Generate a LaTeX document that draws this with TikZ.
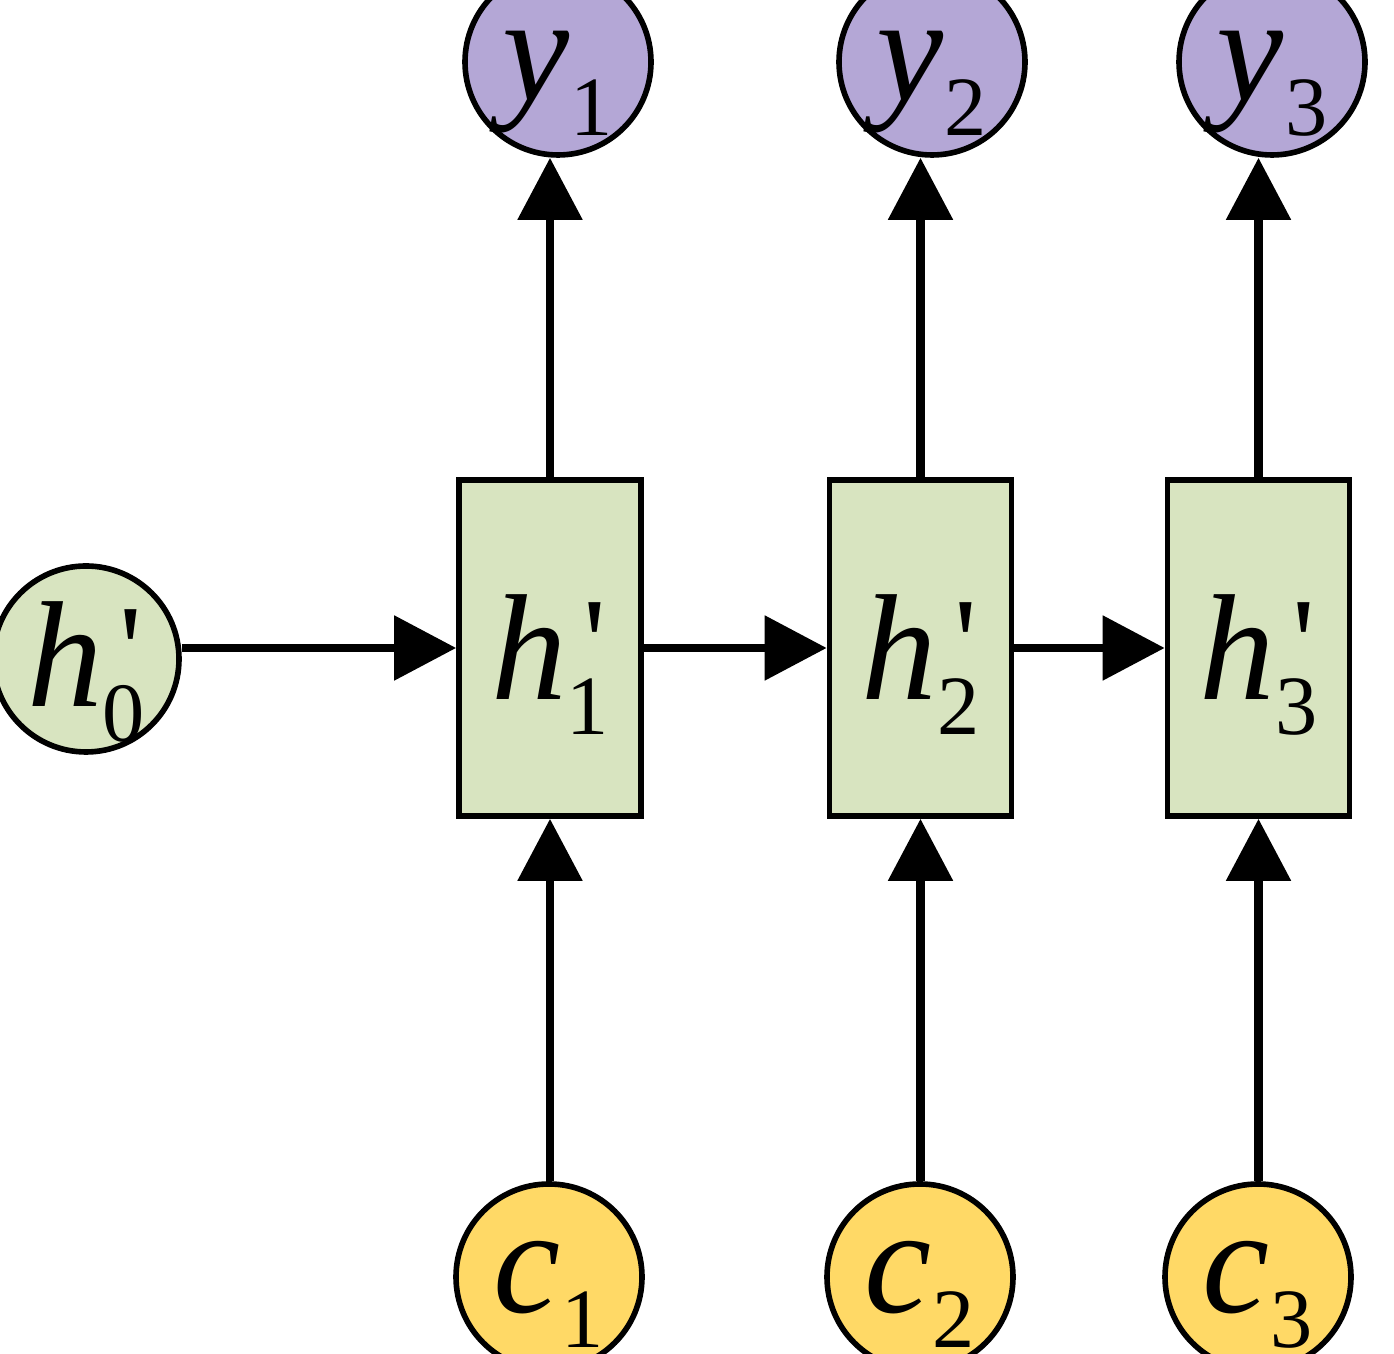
\documentclass[tikz,border=0pt]{standalone}
\usepackage{fontspec}
\setmainfont{Liberation Serif}
\usetikzlibrary{arrows.meta,positioning}
\definecolor{outcol}{RGB}{180,167,214}
\definecolor{hidcol}{RGB}{216,228,192}
\definecolor{incol}{RGB}{255,217,102}
\newcommand{\subfont}{\fontsize{24}{24}\selectfont}
\newcommand{\primefont}{\fontsize{36}{36}\selectfont}
% label: letter, subscript, baseline shift
\newcommand{\lbl}[3]{\makebox[0pt]{\smash{\raisebox{#3}{\textit{#1}\kern0.01cm\raisebox{-0.35cm}{\subfont #2}}}}}
% primed label: letter, subscript, baseline shift
\newcommand{\plbl}[3]{\makebox[0pt]{\smash{\raisebox{#3}{\textit{#1}\rlap{\kern0.17cm\raisebox{0.14cm}{\primefont\textquotesingle}}\kern0.0cm\raisebox{-0.35cm}{\subfont #2}}}}}
\tikzset{
  basic/.style  = {draw, line width=1.6pt, inner sep=0pt, font=\fontsize{43}{43}\selectfont},
  outnode/.style = {basic, circle, minimum size=1.86cm, fill=outcol},
  innode/.style  = {basic, circle, minimum size=1.86cm, fill=incol},
  state/.style   = {basic, circle, minimum size=1.86cm, fill=hidcol},
  cell/.style    = {basic, rectangle, minimum width=1.82cm, minimum height=3.36cm, fill=hidcol},
  arr/.style     = {-{Triangle[length=6.2mm,width=6.3mm]}, line width=2.5pt}
}
\begin{document}
\begin{tikzpicture}
\useasboundingbox (0,0) rectangle (13.94,13.54);
\clip (0,0) rectangle (13.94,13.54);

% hidden cells
\node[cell] (h1) at (5.50,7.06) {\plbl{h}{1}{-0.52cm}};
\node[cell] (h2) at (9.205,7.06) {\plbl{h}{2}{-0.52cm}};
\node[cell] (h3) at (12.585,7.06) {\plbl{h}{3}{-0.52cm}};
\node[state] (h0) at (0.86,6.95) {\plbl{h}{0}{-0.48cm}};

% outputs
\node[outnode] (y1) at (5.58,12.92) {\lbl{y}{1}{-0.39cm}};
\node[outnode] (y2) at (9.32,12.92) {\lbl{y}{2}{-0.39cm}};
\node[outnode] (y3) at (12.72,12.92) {\lbl{y}{3}{-0.39cm}};

% inputs
\node[innode] (c1) at (5.49,0.77) {\lbl{c}{1}{-0.36cm}};
\node[innode] (c2) at (9.20,0.77) {\lbl{c}{2}{-0.36cm}};
\node[innode] (c3) at (12.58,0.77) {\lbl{c}{3}{-0.36cm}};

% arrows
\draw[arr] (h0.east |- h1.west) -- (h1.west);
\draw[arr] (h1.east) -- (h2.west);
\draw[arr] (h2.east) -- (h3.west);
\foreach \value in {1,...,3}
  \draw[arr] (h\value.north) -- (h\value.north |- y\value.south);
\foreach \value in {1,...,3}
  \draw[arr] (h\value.south |- c\value.north) -- (h\value.south);
\end{tikzpicture}
\end{document}
